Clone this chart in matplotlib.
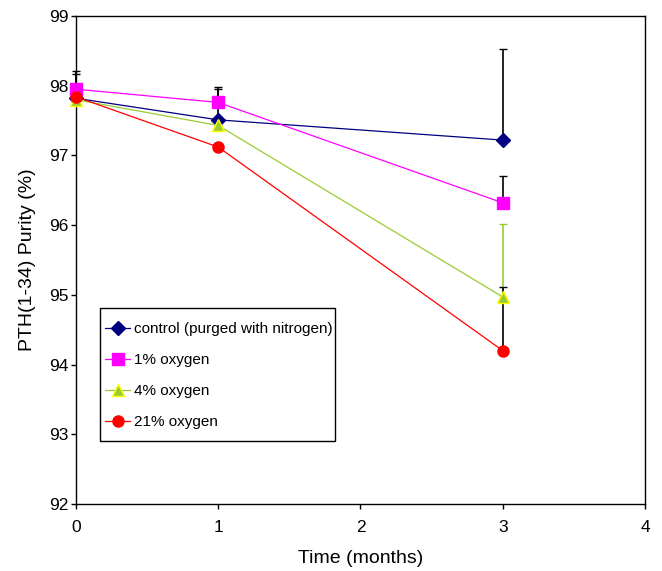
import numpy as np
import matplotlib
matplotlib.use("Agg")
import matplotlib.pyplot as plt
from matplotlib.patches import Rectangle

plt.rcParams["font.family"] = ["Liberation Sans", "DejaVu Sans"]

months = [0, 1, 3]

labels = ["control (purged with nitrogen)", "1% oxygen", "4% oxygen", "21% oxygen"]
control = [97.82, 97.51, 97.22]
oxy1 = [97.95, 97.76, 96.32]
oxy4 = [97.80, 97.43, 94.97]
oxy21 = [97.84, 97.12, 94.20]

# upper error bars only (as in the original)
control_err = [0.39, 0.47, 1.30]
oxy1_err = [0.22, 0.19, 0.38]
oxy4_err = [0.05, 0.05, 1.04]
oxy21_err = [0.05, 0.05, 0.91]

series = [
    (control, control_err, "#000080", "D", "#000080", "#000080", 7, "black"),
    (oxy1, oxy1_err, "#FF00FF", "s", "#FF00FF", "#FF00FF", 8, "black"),
    (oxy4, oxy4_err, "#99CC33", "^", "#99CC33", "#FFFF00", 9, "#99CC33"),
    (oxy21, oxy21_err, "#FF0000", "o", "#FF0000", "#FF0000", 8, "black"),
]

fig = plt.figure(figsize=(6.62, 5.71), dpi=100)
ax = fig.add_axes([0.1148, 0.1173, 0.8595, 0.8547])

for (vals, err, col, mk, fc, ec, ms, ecol), lab in zip(series, labels):
    eb = ax.errorbar(months, vals, yerr=[np.zeros(len(err)), err], fmt="none",
                     ecolor=ecol, elinewidth=1.2, capsize=3, capthick=1.0, zorder=2)
    for art in eb.lines[1] + eb.lines[2]:
        art.set_clip_on(False)
for (vals, err, col, mk, fc, ec, ms, ecol), lab in zip(series, labels):
    ax.plot(months, vals, color=col, lw=0.9, marker=mk, markersize=ms,
            markerfacecolor=fc, markeredgecolor=ec, markeredgewidth=1.0,
            label=lab, zorder=3, clip_on=False)

ax.set_xlim(0, 4)
ax.set_ylim(92, 99)
ax.set_xticks([0, 1, 2, 3, 4])
ax.set_yticks(range(92, 100))
ax.tick_params(labelsize=12.5, direction="out", length=3.6, width=1)
ax.tick_params(axis="x", pad=8)
ax.tick_params(axis="y", pad=2)
for sp in ax.spines.values():
    sp.set_linewidth(1.0)

ax.set_xlabel("Time (months)", fontsize=14, labelpad=11)
ax.set_ylabel("PTH(1-34) Purity (%)", fontsize=14, labelpad=9)

# legend box drawn separately so its padding can match the original
ax.add_patch(Rectangle((0.0422, 0.129), 0.413, 0.2725, transform=ax.transAxes,
                       facecolor="white", edgecolor="black", lw=1.0, zorder=4.9))
leg = ax.legend(loc="upper left", bbox_to_anchor=(0.0422, 0.384), fontsize=11,
                frameon=False, handlelength=1.6, handletextpad=0.25,
                labelspacing=1.12, borderpad=0.35, borderaxespad=0)

fig.savefig("out.png", dpi=100)
